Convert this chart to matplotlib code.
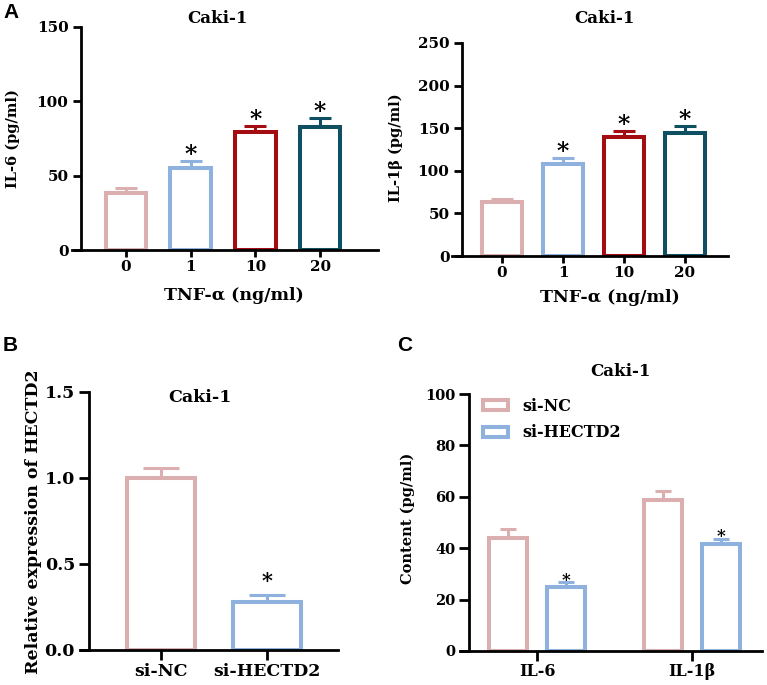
import matplotlib
matplotlib.use("Agg")
import matplotlib.pyplot as plt
from matplotlib.patches import Patch

# panel A: TNF-alpha dose response
tnf_doses = ['0', '1', '10', '20']
il6_mean = [38.5, 55.2, 79.5, 83.0]
il6_err = [3.3, 4.8, 3.9, 5.8]
il6_sig = [False, True, True, True]
il1b_mean = [63.5, 108.0, 139.5, 144.0]
il1b_err = [3.5, 7.0, 7.2, 8.6]
il1b_sig = [False, True, True, True]

# panel B: knockdown efficiency
groups_b = ['si-NC', 'si-HECTD2']
hectd2_mean = [1.0, 0.28]
hectd2_err = [0.06, 0.04]
hectd2_sig = [False, True]

# panel C: cytokine content after knockdown
cytokines = ['IL-6', 'IL-1β']
content_nc = [44.0, 58.8]
content_nc_err = [3.3, 3.5]
content_si = [25.0, 41.6]
content_si_err = [1.8, 2.0]
content_si_sig = [True, True]

PINK = '#DBAFAF'
BLUE = '#8FB1DE'
RED = '#A30D12'
TEAL = '#0F4F62'

plt.rcParams['font.family'] = ['DejaVu Serif']
plt.rcParams['font.weight'] = 'bold'
plt.rcParams['axes.labelweight'] = 'bold'

W, H = 767, 685
fig = plt.figure(figsize=(W / 100, H / 100), dpi=100)


def add_ax(x0, x1, ytop, ybot):
    # pixel box -> figure fraction
    return fig.add_axes([x0 / W, 1 - ybot / H, (x1 - x0) / W, (ybot - ytop) / H])


def style_ax(ax, spine_x, tick_fs, ylen=6, xlen=5):
    for s in ['top', 'right']:
        ax.spines[s].set_visible(False)
    ax.spines['left'].set_position(('data', spine_x))
    ax.spines['left'].set_linewidth(2)
    ax.spines['bottom'].set_linewidth(2)
    ax.tick_params(axis='y', length=ylen, width=2, labelsize=tick_fs, pad=3)
    ax.tick_params(axis='x', length=xlen, width=2, labelsize=tick_fs, pad=2)
    for lab in ax.get_xticklabels() + ax.get_yticklabels():
        lab.set_fontweight('bold')


def hollow_bars(ax, x, vals, errs, colors, width, lw=2.9, cap=8, elw=2.2):
    ax.bar(x, vals, width, facecolor='white', edgecolor=colors, linewidth=lw, zorder=1)
    for xi, v, e, c in zip(x, vals, errs, colors):
        ax.errorbar(xi, v, yerr=[[0], [e]], fmt='none', ecolor=c, elinewidth=elw,
                    capsize=cap, capthick=elw, zorder=0.9)


def stars(ax, x, tops, flags, fs, off):
    for xi, t, f in zip(x, tops, flags):
        if f:
            ax.annotate('*', (xi, t), xytext=(0, off), textcoords='offset points',
                        ha='center', va='center', fontsize=fs, fontweight='bold')


colors_a = [PINK, BLUE, RED, TEAL]
xa = list(range(len(tnf_doses)))

# ---- A left: IL-6
ax1 = add_ax(72, 378, 27, 250)
hollow_bars(ax1, xa, il6_mean, il6_err, colors_a, 0.63)
stars(ax1, xa, [m + e for m, e in zip(il6_mean, il6_err)], il6_sig, 17, 4)
ax1.set_xlim(-0.835, 3.895)
ax1.set_ylim(0, 150)
ax1.set_yticks([0, 50, 100, 150])
ax1.set_xticks(xa)
ax1.set_xticklabels(tnf_doses)
style_ax(ax1, -0.696, 11)
ax1.set_ylabel('IL-6 (pg/ml)', fontsize=10.5)
ax1.yaxis.set_label_coords(-0.17, 0.5)
ax1.set_xlabel('TNF-α (ng/ml)', fontsize=12.5)
ax1.xaxis.set_label_coords(0.53, -0.165)
ax1.text(0.474, 1.04, 'Caki-1', transform=ax1.transAxes, ha='center', va='center',
         fontsize=12, fontweight='bold')

# ---- A right: IL-1b
ax2 = add_ax(452, 728, 43, 256)
hollow_bars(ax2, xa, il1b_mean, il1b_err, colors_a, 0.67)
stars(ax2, xa, [m + e for m, e in zip(il1b_mean, il1b_err)], il1b_sig, 17, 4)
ax2.set_xlim(-0.82, 3.705)
ax2.set_ylim(0, 250)
ax2.set_yticks([0, 50, 100, 150, 200, 250])
ax2.set_xticks(xa)
ax2.set_xticklabels(tnf_doses)
style_ax(ax2, -0.656, 11)
ax2.set_ylabel('IL-1β (pg/ml)', fontsize=10.5)
ax2.yaxis.set_label_coords(-0.178, 0.507)
ax2.set_xlabel('TNF-α (ng/ml)', fontsize=12.5)
ax2.xaxis.set_label_coords(0.572, -0.155)
ax2.text(0.554, 1.117, 'Caki-1', transform=ax2.transAxes, ha='center', va='center',
         fontsize=12, fontweight='bold')

# ---- B: HECTD2 expression
ax3 = add_ax(80, 338, 392, 650)
xb = list(range(len(groups_b)))
hollow_bars(ax3, xb, hectd2_mean, hectd2_err, [PINK, BLUE], 0.65, cap=13)
stars(ax3, xb, [m + e for m, e in zip(hectd2_mean, hectd2_err)], hectd2_sig, 15, 10)
ax3.set_xlim(-0.764, 1.67)
ax3.set_ylim(0, 1.5)
ax3.set_yticks([0, 0.5, 1.0, 1.5])
ax3.set_yticklabels(['0.0', '0.5', '1.0', '1.5'])
ax3.set_xticks(xb)
ax3.set_xticklabels(groups_b)
style_ax(ax3, -0.679, 12.5, ylen=7, xlen=7)
ax3.set_ylabel('Relative expression of HECTD2', fontsize=12.5)
ax3.yaxis.set_label_coords(-0.147, 0.496)
ax3.text(0.465, 0.977, 'Caki-1', transform=ax3.transAxes, ha='center', va='center',
         fontsize=12.5, fontweight='bold')

# ---- C: cytokine content
ax4 = add_ax(460, 762, 394, 651)
xc = list(range(len(cytokines)))
off = 0.187
bw = 0.24
x_nc = [x - off for x in xc]
x_si = [x + off for x in xc]
hollow_bars(ax4, x_nc, content_nc, content_nc_err, [PINK] * 2, bw, cap=6)
hollow_bars(ax4, x_si, content_si, content_si_err, [BLUE] * 2, bw, cap=6)
stars(ax4, x_si, [m + e for m, e in zip(content_si, content_si_err)], content_si_sig, 12, 1.5)
ax4.set_xlim(-0.497, 1.452)
ax4.set_ylim(0, 100)
ax4.set_yticks([0, 20, 40, 60, 80, 100])
ax4.set_xticks(xc)
ax4.set_xticklabels(cytokines)
style_ax(ax4, -0.439, 10.5, ylen=7, xlen=7)
for lab in ax4.get_xticklabels():
    lab.set_fontsize(11.5)
ax4.set_ylabel('Content (pg/ml)', fontsize=10.5)
ax4.yaxis.set_label_coords(-0.149, 0.517)
ax4.text(0.53, 1.086, 'Caki-1', transform=ax4.transAxes, ha='center', va='center',
         fontsize=12, fontweight='bold')
handles = [Patch(facecolor='white', edgecolor=PINK, linewidth=2.9, label='si-NC'),
           Patch(facecolor='white', edgecolor=BLUE, linewidth=2.9, label='si-HECTD2')]
ax4.legend(handles=handles, loc='upper left', bbox_to_anchor=(0.075, 0.985), frameon=False,
           borderpad=0, borderaxespad=0, handlelength=1.6, handleheight=0.55,
           handletextpad=0.9, labelspacing=0.6, prop={'size': 11.5, 'weight': 'bold'})

# panel letters
for letter, (px, py) in zip(['A', 'B', 'C'], [(3, 13), (3, 345), (397, 345)]):
    fig.text(px / W, 1 - py / H, letter, ha='left', va='center', fontsize=15,
             fontweight='bold', family='Liberation Sans')

fig.savefig('out.png', dpi=100)
